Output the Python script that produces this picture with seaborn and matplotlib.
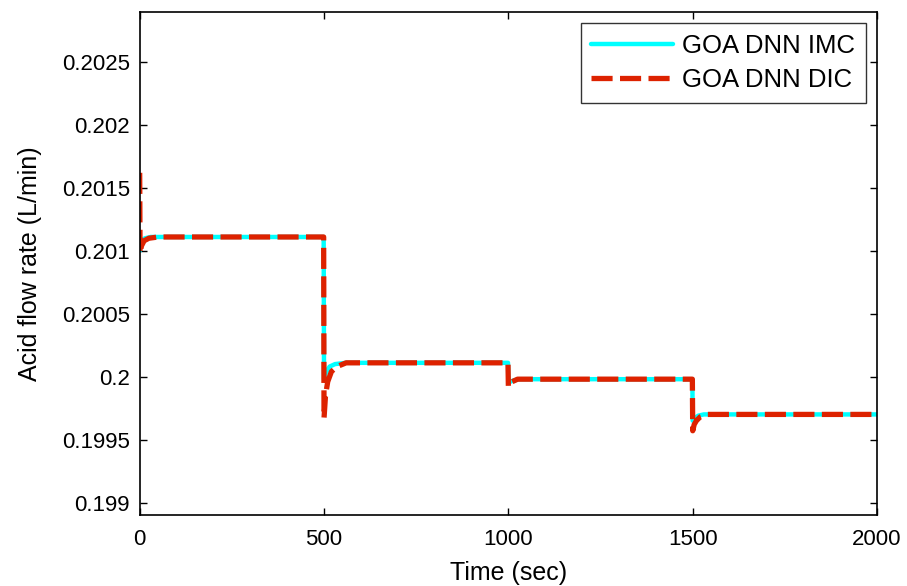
import numpy as np
import pandas as pd
import matplotlib
matplotlib.use('Agg')
import matplotlib.pyplot as plt
import seaborn as sns

# ---- data ----
imc_time = [0, 3, 8, 15, 30, 499, 500, 505, 515, 530, 560, 999, 1000, 1005, 1015,
            1030, 1499, 1500, 1505, 1515, 1530, 2000]
imc_flow = [0.20100, 0.20106, 0.20109, 0.20110, 0.20111, 0.20111,
            0.19998, 0.20003, 0.20008, 0.20010, 0.20011, 0.20011,
            0.19995, 0.19996, 0.19997, 0.19998, 0.19998,
            0.19965, 0.19967, 0.19969, 0.19970, 0.19970]

dic_time = [0, 1, 5, 12, 25, 50, 499, 500, 504, 510, 520, 535, 560, 999, 1000,
            1004, 1010, 1025, 1499, 1500, 1504, 1510, 1520, 1540, 1570, 2000]
dic_flow = [0.20162, 0.20098, 0.20104, 0.20108, 0.20110, 0.20111, 0.20111,
            0.19967, 0.19985, 0.19996, 0.20004, 0.20008, 0.20011, 0.20011,
            0.19992, 0.19994, 0.19996, 0.19998, 0.19998,
            0.19957, 0.19962, 0.19965, 0.19968, 0.19970, 0.19970, 0.19970]

x_ticks = [0, 500, 1000, 1500, 2000]
y_ticks = [0.199, 0.1995, 0.2, 0.2005, 0.201, 0.2015, 0.202, 0.2025]
y_tick_labels = ['0.199', '0.1995', '0.2', '0.2005', '0.201', '0.2015', '0.202', '0.2025']

sns.set_style('white')
plt.rcParams['font.family'] = ['Liberation Sans', 'DejaVu Sans']
plt.rcParams['text.color'] = 'black'
plt.rcParams['axes.labelcolor'] = 'black'

fig = plt.figure(figsize=(9.07, 5.86), dpi=100)
ax = fig.add_axes([0.154, 0.121, 0.813, 0.859])

imc_df = pd.DataFrame({'t': imc_time, 'u': imc_flow})
dic_df = pd.DataFrame({'t': dic_time, 'u': dic_flow})

sns.lineplot(data=imc_df, x='t', y='u', ax=ax, color='#00ffff', lw=3.2,
             sort=False, estimator=None, label='GOA DNN IMC')
sns.lineplot(data=dic_df, x='t', y='u', ax=ax, color='#dd2200', lw=3.8,
             sort=False, estimator=None, label='GOA DNN DIC',
             linestyle=(0, (4, 1.4)))

ax.set_xlim(0, 2000)
ax.set_ylim(0.1989, 0.2029)
ax.set_xticks(x_ticks)
ax.set_xticklabels([str(v) for v in x_ticks])
ax.set_yticks(y_ticks)
ax.set_yticklabels(y_tick_labels)
ax.tick_params(direction='in', length=5, width=1, labelsize=16, colors='black',
               top=True, right=True, bottom=True, left=True, pad=7)
ax.tick_params(axis='x', pad=10)
for s in ax.spines.values():
    s.set_color('black')
    s.set_linewidth(1.2)

ax.set_xlabel('Time (sec)', fontsize=18, labelpad=8)
ax.set_ylabel('Acid flow rate (L/min)', fontsize=18, labelpad=14)

leg = ax.legend(loc='upper right', fontsize=18.5, frameon=True, fancybox=False,
                edgecolor='black', borderaxespad=0.45, handlelength=3.2,
                handletextpad=0.35, borderpad=0.4, labelspacing=0.42)
leg.get_frame().set_linewidth(1.0)

fig.savefig('out.png', dpi=100)
